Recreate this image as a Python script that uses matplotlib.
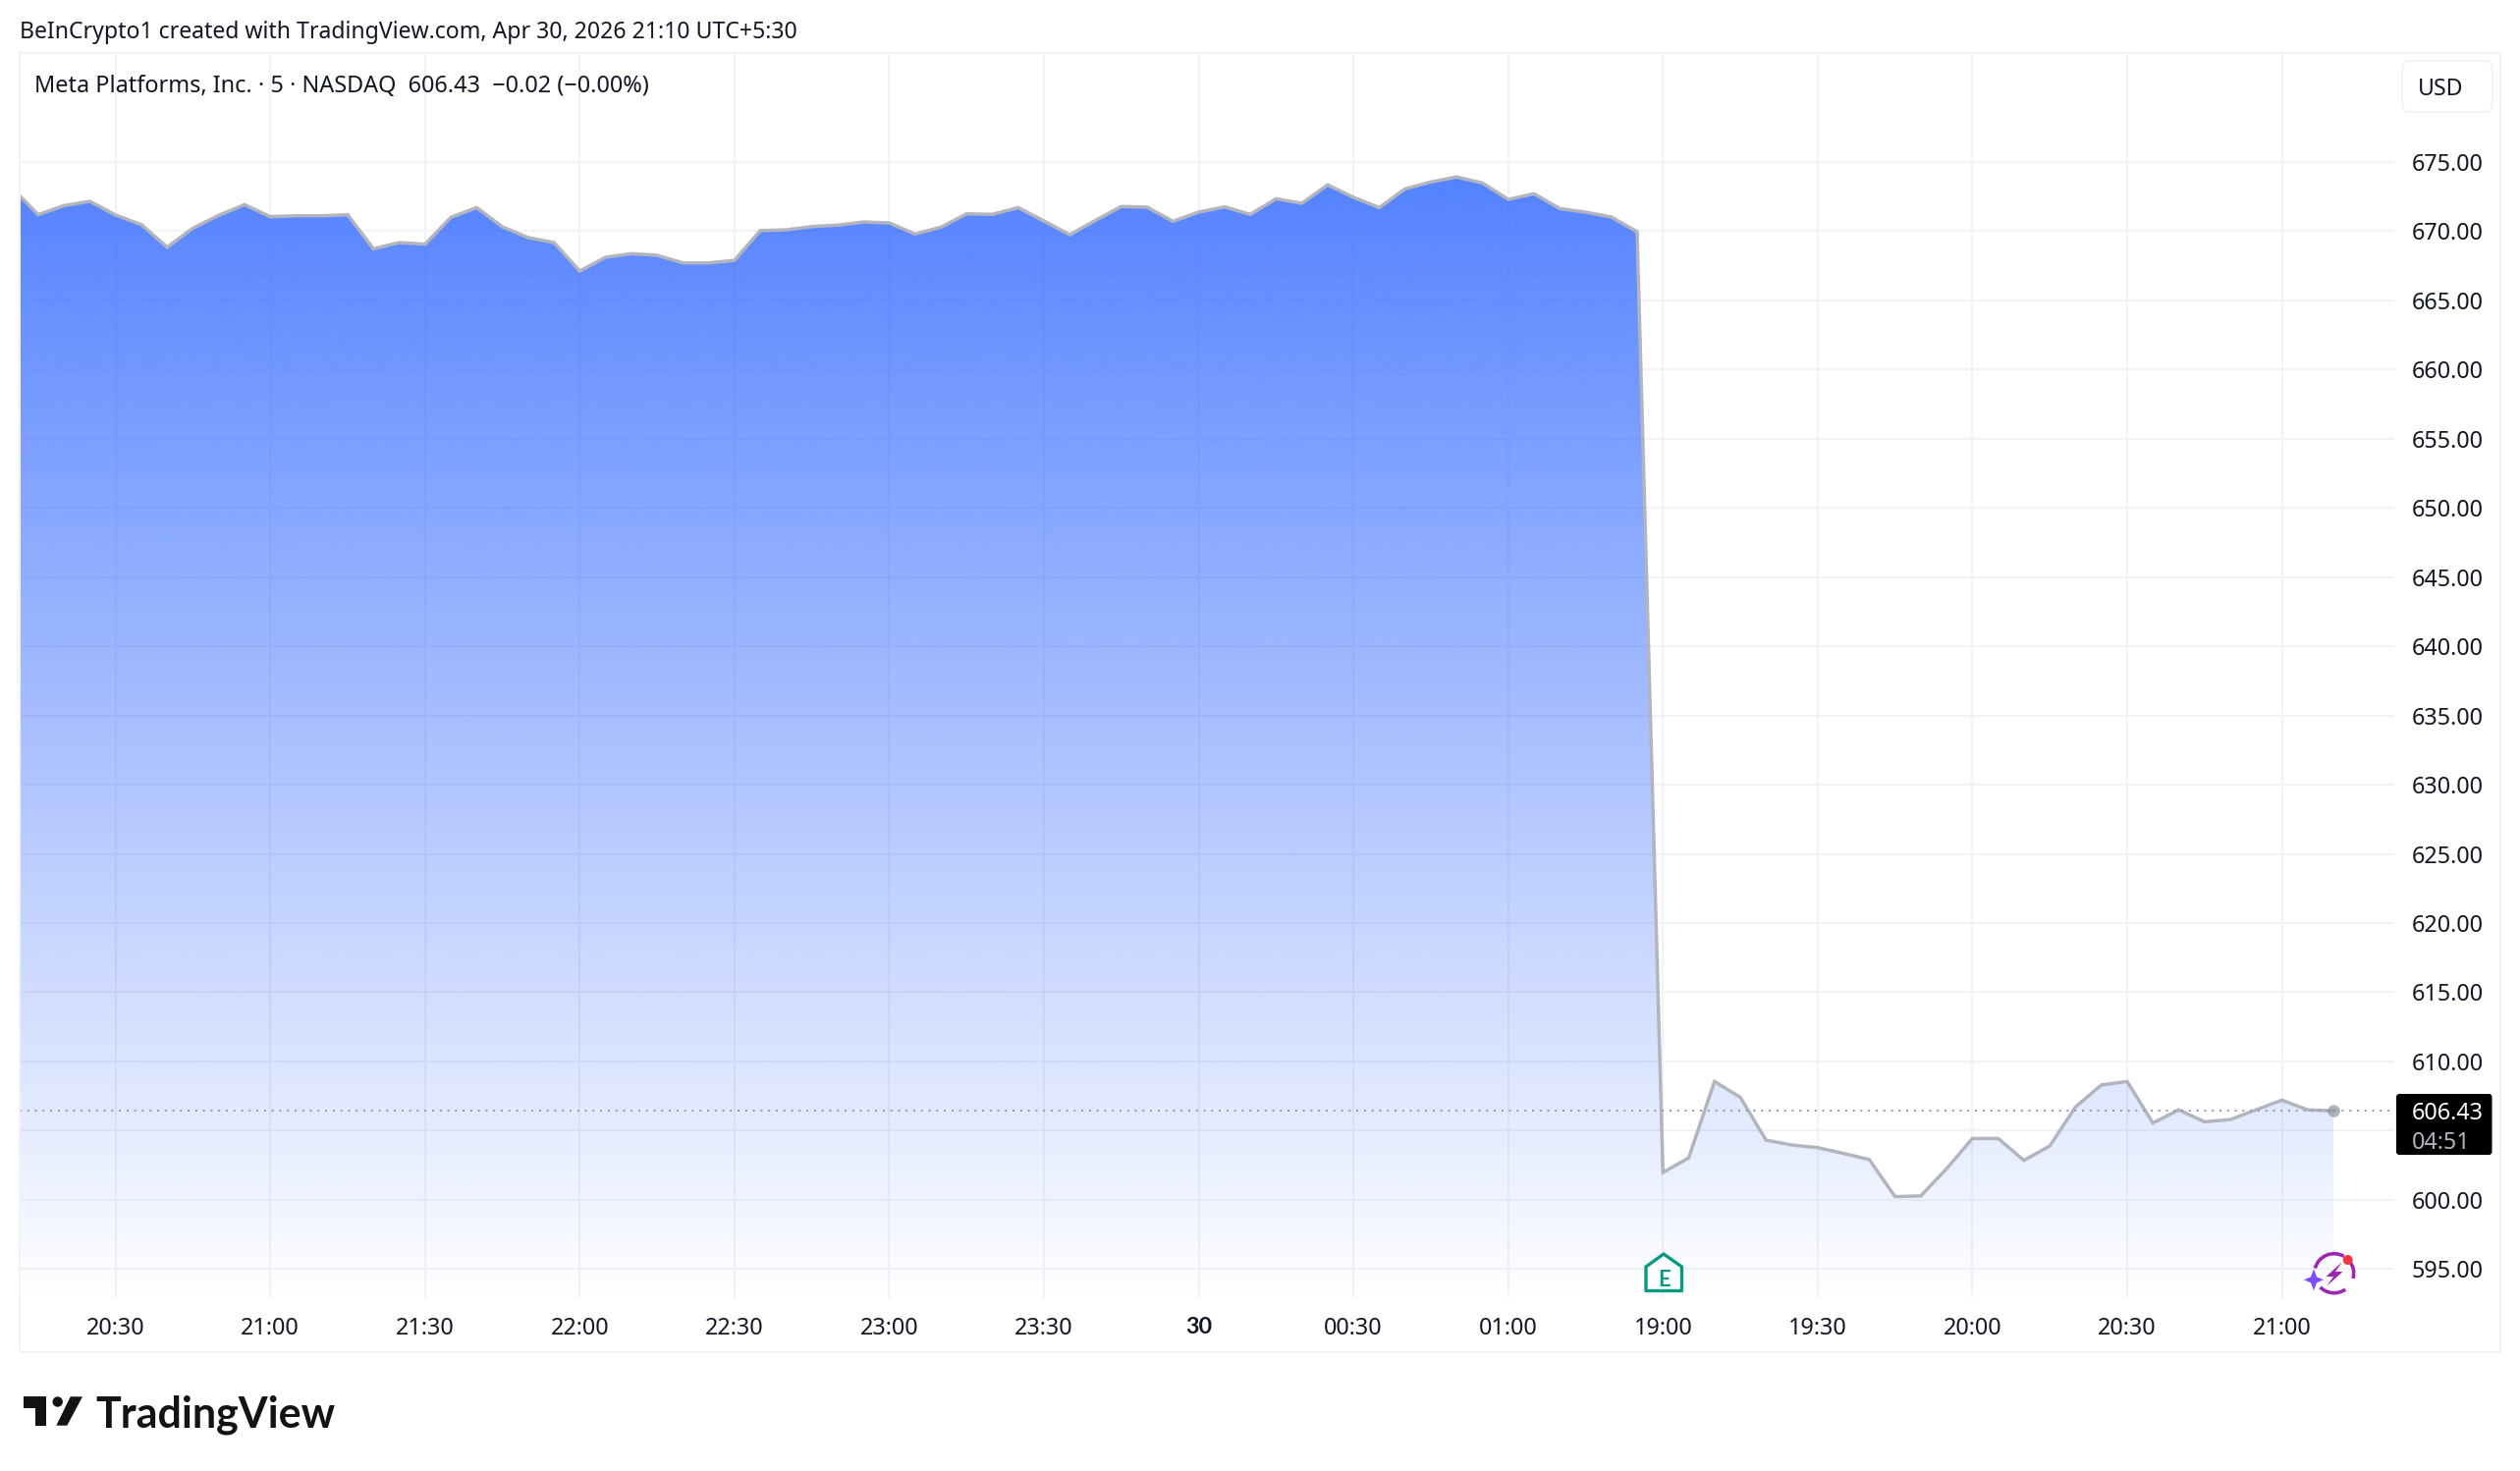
import numpy as np
import matplotlib

matplotlib.use("Agg")
import matplotlib.pyplot as plt
from matplotlib.patches import Arc, Circle, FancyBboxPatch, Polygon, Rectangle

plt.rcParams["font.family"] = ["Noto Sans", "DejaVu Sans"]

WIDTH, HEIGHT = 2566, 1498
TEXT_COLOR = "#131722"
GRID_COLOR = "#f2f3f6"
BOLD_FONT = "Lato"

# 5 minute closes, the first session starts off the left edge of the chart
session_one = [
    673.10, 671.20, 671.85, 672.16, 671.17, 670.48, 668.85, 670.22, 671.15, 671.92,
    671.05, 671.12, 671.12, 671.19, 668.73, 669.18, 669.06, 671.00, 671.71, 670.32,
    669.54, 669.18, 667.12, 668.12, 668.38, 668.26, 667.71, 667.71, 667.90, 670.05,
    670.10, 670.34, 670.44, 670.67, 670.60, 669.80, 670.29, 671.26, 671.22, 671.71,
    670.74, 669.75, 670.79, 671.79, 671.74, 670.72, 671.38, 671.76, 671.22, 672.35,
    672.02, 673.35, 672.45, 671.71, 673.06, 673.56, 673.92, 673.49, 672.30, 672.71,
    671.64, 671.38, 671.03, 669.96,
]
session_two = [
    601.97, 603.03, 608.55, 607.41, 604.31, 603.96, 603.77, 603.35, 602.91, 600.23,
    600.28, 602.25, 604.43, 604.43, 602.85, 603.89, 606.71, 608.30, 608.55, 605.55,
    606.50, 605.64, 605.80, 606.50, 607.20, 606.50, 606.43,
]
price_ticks = list(range(595, 680, 5))
hidden_price_tick = 605  # sits behind the last price box
time_labels = [
    "20:30", "21:00", "21:30", "22:00", "22:30", "23:00", "23:30", "30",
    "00:30", "01:00", "19:00", "19:30", "20:00", "20:30", "21:00",
]
header = "BeInCrypto1 created with TradingView.com, Apr 30, 2026 21:10 UTC+5:30"
legend = "Meta Platforms, Inc. · 5 · NASDAQ  606.43  −0.02 (−0.00%)"


def add_gradient(ax, x, y, y_floor):
    poly = Polygon(
        np.column_stack([np.r_[x[0], x, x[-1]], np.r_[y_floor, y, y_floor]]),
        facecolor="none",
        edgecolor="none",
    )
    ax.add_patch(poly)
    rgba = np.zeros((512, 1, 4))
    rgba[..., :3] = (41 / 255, 98 / 255, 1.0)
    rgba[:, 0, 3] = np.linspace(0.8, 0.0, 512)
    im = ax.imshow(
        rgba,
        extent=[x[0], x[-1], y_floor, np.max(y)],
        aspect="auto",
        origin="upper",
        zorder=2,
        interpolation="bilinear",
    )
    im.set_clip_path(poly)


def draw_logo(over):
    color = "#131313"
    over.add_patch(Polygon(
        [(24, 1422.3), (46.7, 1422.3), (46.7, 1451.7), (36, 1451.7), (36, 1434), (24, 1434)],
        facecolor=color, edgecolor="none",
    ))
    over.add_patch(Circle((58.7, 1427.5), 5.2, facecolor=color, edgecolor="none"))
    over.add_patch(Polygon(
        [(71.7, 1422.3), (84, 1422.3), (68.3, 1451.7), (57.3, 1451.7)],
        facecolor=color, edgecolor="none",
    ))
    over.text(97, 1437, "TradingView", fontsize=31, fontweight="bold", family=BOLD_FONT,
              color=color, va="center_baseline", ha="left")


def draw_earnings_tag(over):
    teal = "#089981"
    over.add_patch(Polygon(
        [(1676, 1314.5), (1676, 1290), (1694, 1277), (1712.5, 1290), (1712.5, 1314.5)],
        facecolor="white", edgecolor=teal, linewidth=2.4, joinstyle="round",
    ))
    over.text(1694.3, 1301, "E", fontsize=16, fontweight="bold", family=BOLD_FONT, color=teal,
              ha="center", va="center_baseline")


def draw_spark_icon(over):
    purple = "#9c27b0"
    center = (2376.7, 1296.7)
    # y axis is flipped here, so the arc angles run clockwise on screen
    over.add_patch(Arc(center, 40, 40, theta1=-40, theta2=15, color=purple, linewidth=2.6))
    over.add_patch(Arc(center, 40, 40, theta1=55, theta2=135, color=purple, linewidth=2.6))
    over.add_patch(Arc(center, 40, 40, theta1=195, theta2=300, color=purple, linewidth=2.6))
    over.add_patch(Polygon(
        [(2385, 1285), (2368.5, 1300), (2376, 1300), (2369.5, 1309.5), (2385.5, 1295), (2378, 1295)],
        facecolor=purple, edgecolor="none",
    ))
    over.add_patch(Circle((2390.7, 1283), 5, facecolor="#f23645", edgecolor="none", zorder=3))
    sx, sy = 2356, 1303.3
    over.add_patch(Polygon(
        [(sx, sy - 11), (sx + 3, sy - 3), (sx + 10, sy), (sx + 3, sy + 3),
         (sx, sy + 11), (sx - 3, sy + 3), (sx - 10, sy), (sx - 3, sy - 3)],
        facecolor="#7c4dff", edgecolor="none", joinstyle="round", zorder=3,
    ))


def draw_overlay(fig, last_price):
    over = fig.add_axes([0, 0, 1, 1], facecolor="none")
    over.set_xlim(0, WIDTH)
    over.set_ylim(HEIGHT, 0)
    over.axis("off")

    over.add_patch(Rectangle((20, 54), 2526, 1323, facecolor="none", edgecolor=GRID_COLOR, linewidth=1.5))
    over.text(20, 30, header, fontsize=16.6, color=TEXT_COLOR, va="center_baseline")
    over.text(35, 85, legend, fontsize=16.9, color=TEXT_COLOR, va="center_baseline")

    over.add_patch(FancyBboxPatch(
        (2446, 62), 92, 52, boxstyle="round,pad=0,rounding_size=8",
        facecolor="white", edgecolor=GRID_COLOR, linewidth=1.2,
    ))
    over.text(2485, 88, "USD", fontsize=16.6, color=TEXT_COLOR, ha="center", va="center_baseline")

    over.add_patch(FancyBboxPatch(
        (2440, 1114), 97.5, 62, boxstyle="round,pad=0,rounding_size=3",
        facecolor="black", edgecolor="none",
    ))
    over.text(2456, 1131, f"{last_price:.2f}", fontsize=16.8, color="white", va="center_baseline")
    over.text(2456, 1160.5, "04:51", fontsize=16.8, color="#b2b5be", va="center_baseline")

    draw_logo(over)
    draw_earnings_tag(over)
    draw_spark_icon(over)


def main():
    fig = plt.figure(figsize=(WIDTH / 100, HEIGHT / 100), dpi=100, facecolor="white")
    ax = fig.add_axes([20 / WIDTH, 1 - 1322 / HEIGHT, (2438 - 20) / WIDTH, (1322 - 54) / HEIGHT])

    prices = np.array(session_one + session_two)
    bars = np.arange(-4, len(session_one) + len(session_two) - 4)
    y_floor, y_top = 592.89, 682.88

    ax.grid(True, color=GRID_COLOR, linewidth=1.5, zorder=1)
    ax.set_axisbelow(True)
    add_gradient(ax, bars, prices, y_floor)
    ax.plot(bars, prices, color="#b2b5be", linewidth=2.5, zorder=3, solid_joinstyle="miter")
    ax.axhline(prices[-1], color="#9598a1", linewidth=1.4, linestyle=(0, (1, 3)), zorder=4)
    ax.plot(bars[-1], prices[-1], "o", color="#9598a1", alpha=0.75, markersize=9, markeredgewidth=0, zorder=5)

    ax.set_xlim(-3.72, 88.36)
    ax.set_ylim(y_floor, y_top)
    ax.set_xticks(np.arange(len(time_labels)) * 6)
    ax.set_xticklabels(time_labels)
    ax.set_yticks(price_ticks)
    ax.set_yticklabels(["" if p == hidden_price_tick else f"{p:.2f}" for p in price_ticks])
    ax.yaxis.tick_right()
    ax.tick_params(axis="both", length=0, labelsize=16.8, labelcolor=TEXT_COLOR)
    ax.tick_params(axis="x", pad=14)
    ax.tick_params(axis="y", pad=13)
    day_label = ax.get_xticklabels()[7]
    day_label.set_fontfamily(BOLD_FONT)
    day_label.set_fontweight("bold")
    for spine in ax.spines.values():
        spine.set_visible(False)

    draw_overlay(fig, prices[-1])
    fig.savefig("out.png", dpi=100)


if __name__ == "__main__":
    main()
